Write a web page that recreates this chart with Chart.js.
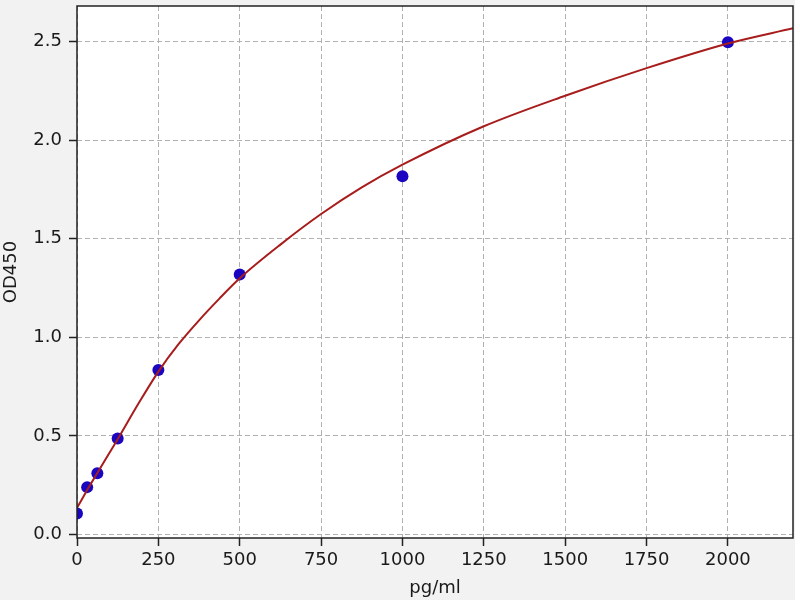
<!DOCTYPE html>
<html lang="en">
<head>
    <meta charset="UTF-8">
    <title>OD450 standard curve</title>
    <script src="https://cdn.jsdelivr.net/npm/chart.js"></script>
    <style>
        body { margin: 0; background: #ffffff; }
        canvas { display: block; }
    </style>
</head>
<body>
    <canvas id="curveChart" width="800" height="600"></canvas>

    <script>
        // Standard points (pg/ml vs OD450)
        const stdConc = [0, 31.25, 62.5, 125, 250, 500, 1000, 2000];
        const stdOD = [0.106, 0.24, 0.31, 0.487, 0.834, 1.318, 1.817, 2.496];

        // Fitted curve
        const curveConc = [0, 31.25, 62.5, 93.75, 125, 187.5, 250, 312.5, 375, 437.5, 500, 625, 750, 875, 1000, 1250, 1500, 1750, 2000, 2200];
        const curveOD = [0.135, 0.225, 0.312, 0.398, 0.483, 0.66, 0.826, 0.966, 1.086, 1.196, 1.299, 1.47, 1.625, 1.76, 1.875, 2.07, 2.225, 2.365, 2.49, 2.567];

        const xTicks = [0, 250, 500, 750, 1000, 1250, 1500, 1750, 2000];
        const yTicks = [0, 0.5, 1.0, 1.5, 2.0, 2.5];

        const fontFamily = "'DejaVu Sans', sans-serif";

        // gray figure background, white plot area, dark frame
        const backdrop = {
            id: "backdrop",
            beforeDraw(chart) {
                const ctx = chart.ctx;
                const a = chart.chartArea;
                ctx.save();
                ctx.fillStyle = "#f2f2f2";
                ctx.fillRect(0, 0, 795, chart.height);
                ctx.fillStyle = "#ffffff";
                ctx.fillRect(a.left, a.top, a.right - a.left, a.bottom - a.top);
                ctx.restore();
            },
            afterDraw(chart) {
                const ctx = chart.ctx;
                const a = chart.chartArea;
                ctx.save();
                ctx.strokeStyle = "#222222";
                ctx.lineWidth = 1.5;
                ctx.strokeRect(a.left, a.top, a.right - a.left, a.bottom - a.top);
                ctx.restore();
            }
        };

        const ctx = document.getElementById("curveChart").getContext("2d");
        new Chart(ctx, {
            type: "scatter",
            data: {
                datasets: [
                    {
                        label: "fit",
                        type: "line",
                        data: curveConc.map((x, i) => ({ x: x, y: curveOD[i] })),
                        borderColor: "#a81c1c",
                        borderWidth: 2,
                        pointRadius: 0,
                        fill: false,
                        cubicInterpolationMode: "monotone",
                        clip: 0,
                        order: 1
                    },
                    {
                        label: "standards",
                        data: stdConc.map((x, i) => ({ x: x, y: stdOD[i] })),
                        backgroundColor: "#1a06c0",
                        borderWidth: 0,
                        pointRadius: 6,
                        clip: 0,
                        order: 2
                    }
                ]
            },
            options: {
                responsive: false,
                animation: false,
                layout: { padding: { top: 2, right: 7, left: 0, bottom: 0 } },
                plugins: {
                    legend: { display: false },
                    tooltip: { enabled: false }
                },
                scales: {
                    x: {
                        type: "linear",
                        min: 0,
                        max: 2200,
                        afterFit: (s) => {
                            s.height = 62;
                            s.paddingLeft = 0;
                            s.paddingRight = 0;
                        },
                        afterBuildTicks: (s) => { s.ticks = xTicks.map(v => ({ value: v })); },
                        ticks: {
                            font: { family: fontFamily, size: 18 },
                            color: "#1a1a1a",
                            padding: 4,
                            maxRotation: 0,
                            callback: (v) => String(v)
                        },
                        grid: {
                            color: "#b0b0b0",
                            lineWidth: 1,
                            tickLength: 8,
                            tickColor: "#222222",
                            tickWidth: 1.5,
                            tickBorderDash: []
                        },
                        border: { display: false, dash: [5, 3] },
                        title: {
                            display: true,
                            text: "pg/ml",
                            font: { family: fontFamily, size: 18 },
                            color: "#1a1a1a",
                            padding: { top: 0, bottom: 1 }
                        }
                    },
                    y: {
                        type: "linear",
                        min: -0.018,
                        max: 2.68,
                        afterFit: (s) => {
                            s.width = 77;
                            s.paddingTop = 0;
                            s.paddingBottom = 0;
                        },
                        afterBuildTicks: (s) => { s.ticks = yTicks.map(v => ({ value: v })); },
                        ticks: {
                            font: { family: fontFamily, size: 18 },
                            color: "#1a1a1a",
                            padding: 7,
                            callback: (v) => Number(v).toFixed(1)
                        },
                        grid: {
                            color: "#b0b0b0",
                            lineWidth: 1,
                            tickLength: 8,
                            tickColor: "#222222",
                            tickWidth: 1.5,
                            tickBorderDash: []
                        },
                        border: { display: false, dash: [5, 3] },
                        title: {
                            display: true,
                            text: "OD450",
                            font: { family: fontFamily, size: 18 },
                            color: "#1a1a1a",
                            padding: { top: 1, bottom: 0 }
                        }
                    }
                }
            },
            plugins: [backdrop]
        });
    </script>
</body>
</html>
